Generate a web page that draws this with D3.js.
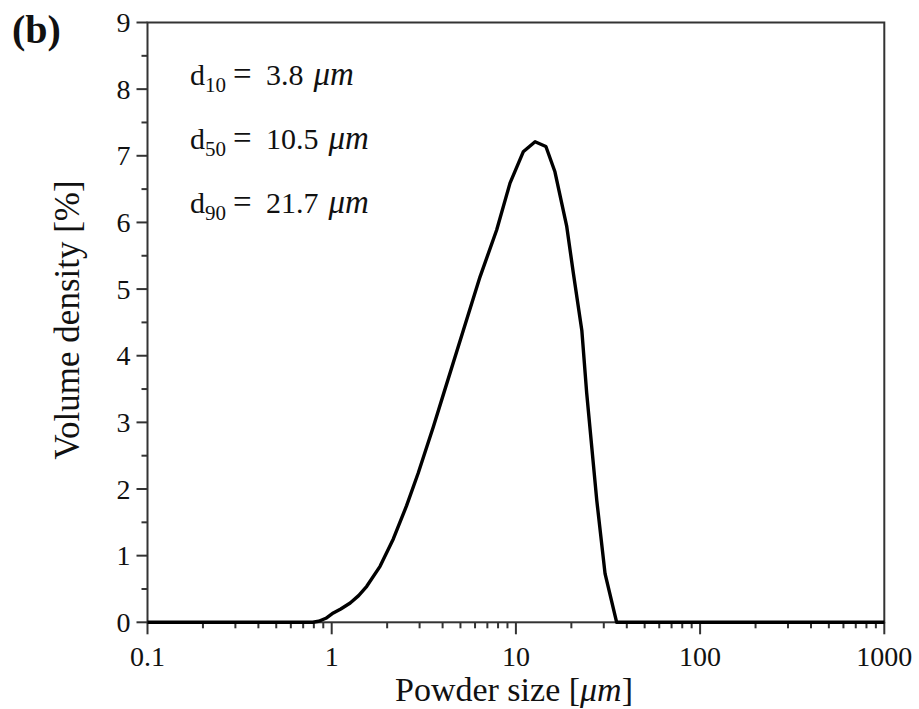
<!DOCTYPE html>
<html><head><meta charset="utf-8">
<script src="https://cdn.jsdelivr.net/npm/d3@7"></script>
<style>body{margin:0;background:#fff}svg{display:block}text{font-family:"Liberation Serif","Times New Roman",serif}</style>
</head><body>
<svg id="c" width="919" height="709"></svg>
<script>
// Data
const sizes = [0.1, 0.79, 0.85, 0.93, 1.02, 1.12, 1.26, 1.4, 1.55, 1.83, 2.16, 2.55, 2.95, 3.56, 4.04, 5.18, 6.38, 7.87, 9.29, 10.96, 12.71, 14.55, 16.29, 18.88, 20.5, 22.8, 24.21, 27.48, 30.48, 35.24, 1000];
const density = [0, 0, 0.015, 0.06, 0.14, 0.2, 0.29, 0.4, 0.54, 0.84, 1.25, 1.75, 2.24, 2.93, 3.42, 4.38, 5.18, 5.89, 6.59, 7.06, 7.21, 7.14, 6.76, 5.94, 5.24, 4.38, 3.45, 1.83, 0.73, 0, 0];
const xTicks = [0.1, 1, 10, 100, 1000];
const xTickLabels = ["0.1", "1", "10", "100", "1000"];
const yTicks = [0, 1, 2, 3, 4, 5, 6, 7, 8, 9];
const annotations = [["10", "3.8"], ["50", "10.5"], ["90", "21.7"]];

const svg = d3.select("#c");
const L = 147.5, R = 884.3, T = 22.5, B = 622.3;
const x = d3.scaleLog().domain([0.1, 1000]).range([L, R]);
const y = d3.scaleLinear().domain([0, 9]).range([B, T]);
const axisCol = "#333";

const xMinor = [];
for (let d = 0.1; d < 1000; d *= 10) for (let k = 2; k <= 9; k++) xMinor.push(d * k);
const yMinor = d3.range(0.5, 9, 1);

// frame
svg.append("rect").attr("x", L).attr("y", T).attr("width", R - L).attr("height", B - T)
  .attr("fill", "none").attr("stroke", axisCol).attr("stroke-width", 2);

// x axis
const gx = svg.append("g").attr("transform", `translate(0,${B})`);
gx.selectAll("line.maj").data(xTicks).join("line").attr("class", "maj").attr("x1", d => x(d)).attr("x2", d => x(d))
  .attr("y1", 0).attr("y2", 12).attr("stroke", axisCol).attr("stroke-width", 2);
gx.selectAll("line.min").data(xMinor).join("line").attr("class", "min").attr("x1", d => x(d)).attr("x2", d => x(d))
  .attr("y1", 0).attr("y2", 6).attr("stroke", axisCol).attr("stroke-width", 2);
gx.selectAll("text").data(xTicks).join("text").attr("x", d => x(d)).attr("y", 44)
  .attr("text-anchor", "middle").attr("font-size", 28).attr("fill", "#111").text((d, i) => xTickLabels[i]);

// y axis
const gy = svg.append("g").attr("transform", `translate(${L},0)`);
gy.selectAll("line.maj").data(yTicks).join("line").attr("class", "maj").attr("y1", d => y(d)).attr("y2", d => y(d))
  .attr("x1", 0).attr("x2", -11).attr("stroke", axisCol).attr("stroke-width", 2);
gy.selectAll("line.min").data(yMinor).join("line").attr("class", "min").attr("y1", d => y(d)).attr("y2", d => y(d))
  .attr("x1", 0).attr("x2", -6).attr("stroke", axisCol).attr("stroke-width", 2);
gy.selectAll("text").data(yTicks).join("text").attr("x", -17).attr("y", d => y(d) + 9.5)
  .attr("text-anchor", "end").attr("font-size", 28).attr("fill", "#111").text(d => d);

// curve
svg.append("path").datum(sizes.map((s, i) => [s, density[i]]))
  .attr("d", d3.line().x(d => x(d[0])).y(d => y(d[1])))
  .attr("fill", "none").attr("stroke", "#000").attr("stroke-width", 3.4).attr("stroke-linejoin", "round");

// annotations
annotations.forEach((a, i) => {
  const by = 85 + i * 64;
  const t = svg.append("text").attr("y", by).attr("font-size", 30).attr("fill", "#111");
  t.append("tspan").attr("x", 190).text("d");
  t.append("tspan").attr("font-size", 21).attr("dy", 7).text(a[0]);
  t.append("tspan").attr("x", 233).attr("dy", -7).attr("font-size", 33).text("=");
  t.append("tspan").attr("x", 266).text(a[1]);
  t.append("tspan").attr("dx", 10).attr("font-style", "italic").attr("font-size", 33).text("μm");
});

// axis labels
const xl = svg.append("text").attr("x", 514).attr("y", 701).attr("text-anchor", "middle").attr("font-size", 34).attr("fill", "#111");
xl.append("tspan").text("Powder size [");
xl.append("tspan").attr("font-style", "italic").text("μm");
xl.append("tspan").text("]");

svg.append("text").attr("transform", "translate(79,320) rotate(-90)").attr("text-anchor", "middle")
  .attr("font-size", 35).attr("fill", "#111").text("Volume density [%]");

// panel label
svg.append("text").attr("x", 12).attr("y", 43).attr("font-size", 40).attr("font-weight", "bold").attr("fill", "#111").text("(b)");
</script>
</body></html>
